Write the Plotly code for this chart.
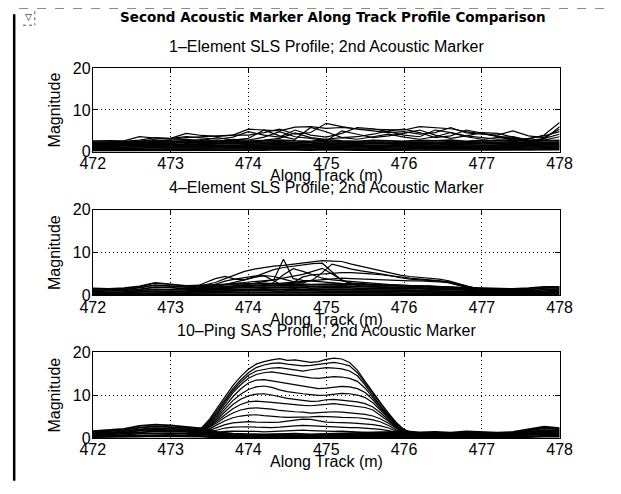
import plotly.graph_objects as go

W, H = 621, 494

# ---------------- data ----------------
x_ticks = [472, 473, 474, 475, 476, 477, 478]
y_ticks = [0, 10, 20]

x_coarse = [472.0, 472.2, 472.4, 472.6, 472.8, 473.0, 473.2, 473.4, 473.6, 473.8, 474.0,
            474.2, 474.4, 474.6, 474.8, 475.0, 475.2, 475.4, 475.6, 475.8, 476.0, 476.2,
            476.4, 476.6, 476.8, 477.0, 477.2, 477.4, 477.6, 477.8, 478.0]

# 1-Element SLS profile: higher wandering profiles
sls1_high = [
    [2.6, 2.7, 2.6, 3.6, 3.3, 3.0, 3.4, 3.6, 3.9, 4.0, 5.4, 5.2, 5.0, 5.9, 6.0, 5.6, 5.8, 5.5, 5.4, 5.3, 5.2, 6.0, 5.8, 5.5, 4.8, 4.3, 3.8, 3.2, 3.0, 4.0, 7.0],
    [2.3, 2.4, 2.5, 2.8, 3.4, 3.2, 4.4, 3.9, 3.7, 4.0, 4.0, 4.6, 5.4, 4.2, 4.6, 6.8, 6.0, 5.4, 5.0, 4.6, 4.8, 4.2, 4.6, 5.8, 4.5, 4.2, 4.0, 5.0, 3.8, 3.4, 5.4],
    [2.0, 2.2, 2.3, 2.5, 3.0, 3.2, 3.6, 3.3, 3.0, 3.5, 4.8, 4.0, 3.5, 5.2, 4.0, 3.5, 4.4, 5.8, 5.5, 4.8, 4.0, 3.6, 5.2, 4.6, 3.6, 3.0, 3.4, 3.6, 2.8, 3.0, 6.0],
    [1.8, 1.9, 2.0, 2.3, 2.6, 2.8, 3.0, 2.7, 3.4, 2.8, 3.2, 5.2, 3.8, 3.0, 5.8, 4.8, 3.4, 3.6, 4.2, 5.0, 5.4, 4.6, 3.4, 3.8, 5.2, 4.5, 3.6, 2.8, 3.2, 3.8, 4.8],
    [1.6, 1.7, 1.8, 2.0, 2.4, 2.5, 2.6, 2.9, 2.5, 3.0, 2.8, 3.5, 4.8, 3.6, 3.2, 2.6, 5.0, 4.2, 3.4, 3.8, 4.4, 5.2, 4.0, 3.2, 3.8, 4.6, 4.4, 3.5, 2.6, 3.2, 4.2],
    [1.4, 1.5, 1.6, 1.8, 2.0, 2.2, 2.3, 2.4, 2.6, 2.4, 2.6, 2.8, 3.2, 4.5, 3.4, 3.0, 3.4, 3.0, 3.6, 4.2, 3.5, 3.0, 3.6, 4.6, 3.8, 3.4, 3.0, 3.2, 2.4, 2.8, 3.6],
]
# 1-Element SLS profile: dense low band
sls1_low = [
    [2.3, 2.2, 2.3, 2.4, 2.6, 2.4, 2.6, 2.5, 2.5, 2.7, 2.4, 2.6, 2.8, 2.6, 2.5, 2.9, 2.6, 2.5, 2.7, 2.6, 2.5, 2.7, 2.6, 2.8, 2.5, 2.7, 2.6, 2.8, 2.5, 2.6, 2.7],
    [2.0, 1.9, 2.0, 2.1, 2.2, 2.0, 2.3, 2.1, 2.2, 2.3, 2.1, 2.2, 2.4, 2.2, 2.2, 2.5, 2.3, 2.1, 2.3, 2.2, 2.1, 2.3, 2.2, 2.4, 2.2, 2.3, 2.2, 2.4, 2.1, 2.2, 2.3],
    [1.7, 1.6, 1.7, 1.8, 1.9, 1.7, 1.9, 1.8, 1.9, 2.0, 1.8, 1.9, 2.0, 1.9, 1.8, 2.1, 1.9, 1.8, 2.0, 1.9, 1.8, 2.0, 1.9, 2.0, 1.9, 2.0, 1.9, 2.0, 1.8, 1.9, 2.0],
    [1.4, 1.3, 1.4, 1.5, 1.6, 1.4, 1.6, 1.5, 1.6, 1.6, 1.5, 1.6, 1.7, 1.6, 1.5, 1.7, 1.6, 1.5, 1.6, 1.6, 1.5, 1.7, 1.6, 1.7, 1.6, 1.6, 1.6, 1.7, 1.5, 1.6, 1.7],
    [1.1, 1.0, 1.1, 1.2, 1.3, 1.1, 1.3, 1.2, 1.3, 1.3, 1.2, 1.3, 1.4, 1.3, 1.2, 1.4, 1.3, 1.2, 1.3, 1.3, 1.2, 1.4, 1.3, 1.4, 1.3, 1.3, 1.3, 1.4, 1.2, 1.3, 1.4],
    [0.8, 0.8, 0.9, 0.9, 1.0, 0.9, 1.0, 0.9, 1.0, 1.0, 0.9, 1.0, 1.1, 1.0, 0.9, 1.1, 1.0, 0.9, 1.0, 1.0, 0.9, 1.1, 1.0, 1.1, 1.0, 1.0, 1.0, 1.1, 0.9, 1.0, 1.1],
    [0.6, 0.5, 0.6, 0.6, 0.7, 0.6, 0.7, 0.6, 0.7, 0.7, 0.6, 0.7, 0.8, 0.7, 0.6, 0.8, 0.7, 0.6, 0.7, 0.7, 0.6, 0.8, 0.7, 0.8, 0.7, 0.7, 0.7, 0.8, 0.6, 0.7, 0.8],
    [0.3, 0.3, 0.4, 0.4, 0.4, 0.3, 0.4, 0.4, 0.4, 0.4, 0.4, 0.4, 0.5, 0.4, 0.4, 0.5, 0.4, 0.4, 0.4, 0.4, 0.4, 0.5, 0.4, 0.5, 0.4, 0.4, 0.4, 0.5, 0.4, 0.4, 0.5],
]

# 4-Element SLS profile
x_sls4 = [473.2, 473.325, 473.45, 473.575, 473.7, 473.825, 473.95, 474.075, 474.2, 474.325,
          474.45, 474.575, 474.7, 474.825, 474.95, 475.075, 475.2, 475.325, 475.45, 475.575,
          475.7, 475.825, 475.95, 476.075, 476.2, 476.325, 476.45, 476.575, 476.7, 476.825, 476.95]
sls4_peak = [
    [1.5, 2.0, 2.4, 3.0, 3.9, 4.8, 5.6, 6.1, 6.5, 6.8, 7.0, 7.3, 7.6, 7.9, 8.1, 8.0, 7.9, 7.3, 6.8, 6.3, 5.8, 5.2, 4.7, 4.4, 4.2, 4.0, 3.8, 3.4, 2.7, 2.1, 1.6],
    [1.2, 1.5, 1.9, 2.3, 2.6, 2.8, 3.0, 3.2, 3.4, 3.6, 8.4, 3.9, 3.5, 3.3, 3.1, 3.0, 2.8, 2.7, 2.6, 2.5, 2.4, 2.3, 2.2, 2.2, 2.1, 2.0, 1.9, 1.8, 1.7, 1.5, 1.3],
    [1.0, 1.4, 1.9, 2.6, 3.3, 3.8, 4.2, 4.5, 4.6, 4.4, 3.8, 3.2, 2.9, 3.6, 5.3, 7.3, 6.7, 6.1, 5.7, 5.4, 5.0, 4.6, 4.1, 3.8, 3.6, 3.5, 3.3, 2.9, 2.4, 1.8, 1.3],
    [0.9, 1.2, 1.6, 2.0, 2.5, 3.0, 3.6, 4.3, 5.2, 6.0, 6.5, 6.8, 7.1, 7.4, 7.5, 5.4, 3.4, 2.9, 2.7, 2.6, 2.5, 2.4, 2.3, 2.3, 2.2, 2.2, 2.1, 2.0, 1.8, 1.5, 1.2],
    [1.4, 2.0, 3.0, 3.9, 4.4, 3.8, 3.6, 4.2, 4.6, 3.4, 2.2, 3.0, 4.3, 4.8, 5.0, 5.2, 5.3, 5.3, 5.2, 5.0, 4.8, 4.6, 4.3, 4.0, 3.8, 3.6, 3.4, 3.2, 2.6, 2.0, 1.5],
    [0.8, 1.0, 1.3, 1.6, 1.9, 2.2, 2.3, 2.4, 2.2, 3.0, 4.8, 6.2, 5.6, 4.8, 4.0, 3.6, 3.4, 3.2, 3.0, 2.8, 2.6, 2.5, 2.4, 2.3, 2.3, 2.2, 2.1, 2.0, 1.8, 1.5, 1.2],
    [0.8, 1.0, 1.2, 1.5, 1.8, 2.1, 2.4, 2.8, 3.2, 3.6, 4.0, 4.4, 4.9, 5.6, 6.3, 5.0, 3.6, 2.6, 2.2, 2.0, 1.9, 1.8, 1.8, 1.7, 1.7, 1.6, 1.6, 1.6, 1.5, 1.4, 1.2],
    [0.7, 0.9, 1.1, 1.4, 1.6, 1.8, 2.0, 2.2, 2.5, 2.7, 2.8, 3.0, 3.3, 3.5, 3.6, 3.8, 4.0, 3.9, 3.8, 3.7, 3.6, 3.5, 3.5, 3.4, 3.4, 3.3, 3.2, 3.0, 2.4, 1.8, 1.3],
]
sls4_low = [
    [1.6, 1.5, 1.7, 2.1, 2.9, 2.6, 2.2, 2.3, 2.5, 2.6, 2.7, 2.8, 2.6, 2.7, 2.5, 2.6, 2.7, 2.5, 2.4, 2.3, 2.2, 2.1, 2.0, 1.9, 1.8, 1.7, 1.6, 1.5, 1.7, 2.0, 2.0],
    [1.3, 1.2, 1.4, 1.8, 2.4, 2.2, 1.9, 2.0, 2.1, 2.2, 2.3, 2.3, 2.2, 2.3, 2.1, 2.2, 2.2, 2.1, 2.0, 1.9, 1.8, 1.8, 1.7, 1.6, 1.5, 1.4, 1.3, 1.3, 1.4, 1.7, 1.8],
    [1.0, 1.0, 1.1, 1.4, 1.9, 1.8, 1.5, 1.6, 1.7, 1.8, 1.9, 1.9, 1.8, 1.9, 1.7, 1.8, 1.8, 1.7, 1.6, 1.6, 1.5, 1.5, 1.4, 1.3, 1.2, 1.1, 1.1, 1.0, 1.1, 1.3, 1.5],
    [0.8, 0.7, 0.8, 1.1, 1.4, 1.3, 1.2, 1.2, 1.3, 1.4, 1.5, 1.5, 1.4, 1.5, 1.3, 1.4, 1.4, 1.3, 1.3, 1.2, 1.2, 1.1, 1.1, 1.0, 0.9, 0.9, 0.8, 0.8, 0.9, 1.0, 1.2],
    [0.5, 0.5, 0.6, 0.8, 1.0, 0.9, 0.8, 0.9, 1.0, 1.0, 1.1, 1.1, 1.0, 1.1, 1.0, 1.0, 1.0, 1.0, 0.9, 0.9, 0.9, 0.8, 0.8, 0.7, 0.7, 0.6, 0.6, 0.6, 0.6, 0.7, 0.9],
    [0.3, 0.3, 0.4, 0.5, 0.6, 0.6, 0.5, 0.6, 0.6, 0.7, 0.7, 0.7, 0.6, 0.7, 0.6, 0.7, 0.6, 0.6, 0.6, 0.6, 0.5, 0.5, 0.5, 0.5, 0.4, 0.4, 0.4, 0.4, 0.4, 0.5, 0.6],
    [0.1, 0.1, 0.2, 0.2, 0.3, 0.3, 0.2, 0.3, 0.3, 0.3, 0.3, 0.3, 0.3, 0.3, 0.3, 0.3, 0.3, 0.3, 0.3, 0.3, 0.2, 0.2, 0.2, 0.2, 0.2, 0.2, 0.2, 0.2, 0.2, 0.2, 0.3],
]

# 10-Ping SAS profile
x_sas = [473.2, 473.3, 473.4, 473.5, 473.6, 473.7, 473.8, 473.9, 474.0, 474.1, 474.2,
         474.3, 474.4, 474.5, 474.6, 474.7, 474.8, 474.9, 475.0, 475.1, 475.2, 475.3,
         475.4, 475.5, 475.6, 475.7, 475.8, 475.9, 476.0, 476.1, 476.2]
sas_plateau = [
    [1.0, 1.4, 2.4, 4.4, 7.0, 9.6, 12.2, 14.3, 16.0, 17.2, 17.8, 18.2, 18.5, 18.1, 18.2, 17.9, 17.6, 17.8, 18.3, 18.6, 18.4, 17.6, 15.8, 13.2, 10.6, 8.2, 5.8, 3.6, 2.0, 1.2, 0.9],
    [0.9, 1.3, 2.2, 4.0, 6.5, 9.0, 11.5, 13.5, 15.2, 16.4, 17.0, 17.4, 17.5, 17.2, 17.0, 16.8, 16.9, 17.1, 17.4, 17.6, 17.3, 16.8, 15.2, 12.8, 10.2, 7.8, 5.5, 3.4, 1.8, 1.1, 0.8],
    [0.9, 1.2, 2.0, 3.7, 6.0, 8.5, 11.0, 13.0, 14.6, 15.6, 16.0, 16.3, 16.4, 16.1, 15.8, 15.6, 15.9, 16.2, 16.4, 16.3, 16.1, 15.6, 14.5, 12.3, 9.8, 7.4, 5.2, 3.2, 1.7, 1.0, 0.8],
    [0.8, 1.1, 1.9, 3.5, 5.6, 8.0, 10.5, 12.4, 13.9, 14.8, 15.2, 15.4, 15.1, 14.8, 14.6, 14.3, 14.0, 13.9, 14.1, 14.3, 14.2, 13.9, 13.2, 11.6, 9.4, 7.1, 5.0, 3.1, 1.6, 1.0, 0.7],
    [0.8, 1.0, 1.8, 3.2, 5.2, 7.4, 9.6, 11.4, 12.8, 13.5, 13.6, 13.3, 13.0, 12.6, 12.4, 12.0, 11.7, 11.5, 11.6, 11.8, 12.0, 11.9, 11.5, 10.6, 8.9, 6.8, 4.8, 3.0, 1.5, 0.9, 0.7],
    [0.7, 1.0, 1.7, 3.0, 4.8, 6.8, 8.7, 10.2, 11.3, 11.9, 12.1, 11.8, 11.2, 10.8, 10.5, 10.3, 10.1, 9.9, 10.0, 10.2, 10.4, 10.3, 10.0, 9.4, 8.2, 6.4, 4.5, 2.8, 1.4, 0.9, 0.7],
    [0.7, 0.9, 1.6, 2.8, 4.4, 6.2, 7.8, 9.0, 9.8, 10.2, 10.3, 10.0, 9.6, 9.2, 9.0, 8.7, 8.5, 8.6, 8.9, 9.0, 8.8, 8.6, 8.4, 8.0, 7.2, 5.8, 4.2, 2.6, 1.3, 0.8, 0.6],
    [0.7, 0.9, 1.5, 2.6, 4.0, 5.5, 6.8, 7.8, 8.4, 8.6, 8.5, 8.3, 8.1, 7.9, 7.7, 7.6, 7.5, 7.6, 7.8, 8.0, 7.8, 7.6, 7.4, 7.1, 6.5, 5.3, 3.9, 2.4, 1.2, 0.8, 0.6],
    [0.6, 0.8, 1.4, 2.4, 3.6, 4.8, 5.8, 6.5, 6.9, 7.0, 6.9, 6.7, 6.4, 6.2, 6.1, 6.0, 5.8, 5.9, 6.0, 6.1, 6.0, 5.8, 5.7, 5.5, 5.1, 4.4, 3.4, 2.2, 1.1, 0.7, 0.6],
    [0.6, 0.8, 1.3, 2.1, 3.1, 4.0, 4.7, 5.1, 5.3, 5.4, 5.2, 5.0, 4.9, 4.8, 4.8, 4.9, 4.9, 5.0, 5.0, 4.9, 4.8, 4.8, 4.7, 4.5, 4.2, 3.7, 2.9, 1.9, 1.0, 0.7, 0.5],
    [0.5, 0.7, 1.1, 1.8, 2.5, 3.1, 3.5, 3.7, 3.8, 3.7, 3.6, 3.6, 3.7, 3.9, 4.2, 4.4, 4.3, 4.0, 3.7, 3.6, 3.6, 3.5, 3.4, 3.3, 3.1, 2.8, 2.3, 1.6, 0.9, 0.6, 0.5],
    [0.5, 0.6, 0.9, 1.4, 1.9, 2.3, 2.5, 2.6, 2.6, 2.5, 2.4, 2.4, 2.5, 2.7, 2.8, 2.9, 2.8, 2.7, 2.6, 2.5, 2.5, 2.4, 2.4, 2.3, 2.2, 2.0, 1.7, 1.2, 0.8, 0.6, 0.5],
    [0.4, 0.5, 0.7, 1.0, 1.3, 1.5, 1.6, 1.6, 1.5, 1.5, 1.4, 1.5, 1.6, 1.7, 1.8, 1.8, 1.7, 1.6, 1.5, 1.5, 1.6, 1.5, 1.5, 1.4, 1.3, 1.2, 1.0, 0.8, 0.6, 0.5, 0.4],
]
sas_low = [
    [1.6, 1.8, 2.1, 2.8, 3.1, 2.9, 2.6, 2.2, 1.4, 1.0, 0.9, 0.8, 0.9, 1.0, 0.8, 0.9, 1.0, 1.1, 1.3, 1.4, 1.6, 1.3, 1.4, 1.2, 1.5, 1.3, 1.2, 1.4, 2.0, 2.6, 2.3],
    [1.3, 1.5, 1.8, 2.4, 2.7, 2.5, 2.3, 1.9, 1.1, 0.7, 0.6, 0.7, 0.8, 0.6, 0.7, 0.8, 0.7, 0.9, 1.1, 1.2, 1.3, 1.1, 1.2, 1.0, 1.2, 1.1, 1.0, 1.2, 1.7, 2.2, 2.0],
    [1.1, 1.2, 1.5, 2.0, 2.3, 2.2, 2.0, 1.6, 0.9, 0.6, 0.5, 0.5, 0.6, 0.5, 0.6, 0.6, 0.5, 0.7, 0.9, 1.0, 1.1, 0.9, 1.0, 0.9, 1.0, 0.9, 0.9, 1.0, 1.4, 1.8, 1.7],
    [0.9, 1.0, 1.2, 1.7, 1.9, 1.8, 1.7, 1.3, 0.7, 0.5, 0.4, 0.4, 0.5, 0.4, 0.4, 0.5, 0.4, 0.5, 0.7, 0.8, 0.9, 0.8, 0.8, 0.7, 0.8, 0.8, 0.7, 0.8, 1.2, 1.5, 1.4],
    [0.7, 0.8, 1.0, 1.3, 1.5, 1.5, 1.4, 1.1, 0.5, 0.3, 0.3, 0.3, 0.3, 0.3, 0.3, 0.3, 0.3, 0.4, 0.5, 0.6, 0.7, 0.6, 0.6, 0.6, 0.6, 0.6, 0.6, 0.6, 0.9, 1.2, 1.1],
    [0.5, 0.6, 0.7, 1.0, 1.1, 1.1, 1.0, 0.8, 0.4, 0.2, 0.2, 0.2, 0.2, 0.2, 0.2, 0.2, 0.2, 0.3, 0.4, 0.4, 0.5, 0.4, 0.4, 0.4, 0.4, 0.4, 0.4, 0.4, 0.7, 0.9, 0.8],
    [0.3, 0.4, 0.5, 0.6, 0.7, 0.7, 0.6, 0.5, 0.3, 0.1, 0.1, 0.1, 0.1, 0.1, 0.1, 0.1, 0.1, 0.2, 0.2, 0.3, 0.3, 0.3, 0.3, 0.2, 0.3, 0.3, 0.2, 0.3, 0.4, 0.5, 0.5],
    [0.2, 0.2, 0.3, 0.3, 0.4, 0.4, 0.3, 0.3, 0.1, 0.05, 0.05, 0.05, 0.05, 0.05, 0.05, 0.05, 0.05, 0.1, 0.1, 0.1, 0.1, 0.1, 0.1, 0.1, 0.1, 0.1, 0.1, 0.1, 0.2, 0.3, 0.3],
]

main_title = "Second Acoustic Marker Along Track Profile Comparison"
sub_titles = ["1\u2013Element SLS Profile; 2nd Acoustic Marker",
              "4\u2013Element SLS Profile; 2nd Acoustic Marker",
              "10\u2013Ping SAS Profile; 2nd Acoustic Marker"]
x_label = "Along Track (m)"
y_label = "Magnitude"

# ---------------- layout helpers ----------------
# The captured page includes the default 8px body margin and is scaled to fit;
# these helpers map target screenshot pixels to paper coordinates.
SX, SY, OFF = 621 / 637, 494 / 510, 8.0

def px_x(s):
    return (s / SX - OFF) / W

def px_y(s):
    return 1 - (s / SY - OFF) / H

LEFT, RIGHT = 89, 564
boxes = [(68, 152), (210, 296), (353, 439)]  # top, bottom (target px)

FONT = "Liberation Sans, Arial, sans-serif"

fig = go.Figure()

def add_lines(xs, series, idx, width):
    suffix = "" if idx == 1 else str(idx)
    for ys in series:
        fig.add_trace(go.Scatter(x=xs, y=ys, mode="lines",
                                 line=dict(color="black", width=width),
                                 xaxis="x" + suffix, yaxis="y" + suffix,
                                 hoverinfo="skip", showlegend=False))

add_lines(x_coarse, sls1_low, 1, 1.8)
add_lines(x_coarse, sls1_high, 1, 1.2)
add_lines(x_coarse, sls4_low, 2, 1.8)
add_lines(x_sls4, sls4_peak, 2, 1.2)
add_lines(x_coarse, sas_low, 3, 1.8)
add_lines(x_sas, sas_plateau, 3, 1.2)

layout = dict(width=W, height=H, margin=dict(l=0, r=0, t=0, b=0),
              paper_bgcolor="white", plot_bgcolor="white", showlegend=False)

common = dict(showgrid=True, gridcolor="black", griddash="1px,3px", gridwidth=1,
              showline=True, linecolor="black", linewidth=1, mirror="ticks",
              ticks="inside", ticklen=5, tickcolor="black", tickwidth=1,
              zeroline=False, fixedrange=True,
              tickfont=dict(family=FONT, size=16, color="black"))

annotations = []
for i, (top, bot) in enumerate(boxes, start=1):
    suffix = "" if i == 1 else str(i)
    layout["xaxis" + suffix] = dict(common, domain=[px_x(LEFT), px_x(RIGHT)],
                                    range=[472, 478], tickvals=x_ticks,
                                    ticklabelstandoff=-3,
                                    anchor="y" + suffix)
    layout["yaxis" + suffix] = dict(common, domain=[px_y(bot), px_y(top)],
                                    range=[0, 20], tickvals=y_ticks,
                                    ticklabelstandoff=-2,
                                    anchor="x" + suffix)
    cx = px_x((LEFT + RIGHT) / 2)
    annotations.append(dict(text=sub_titles[i - 1], x=cx, y=px_y(top - 22),
                            xref="paper", yref="paper", showarrow=False,
                            xanchor="center", yanchor="middle",
                            font=dict(family=FONT, size=16, color="black")))
    annotations.append(dict(text=x_label, x=cx, y=px_y(bot + 24),
                            xref="paper", yref="paper", showarrow=False,
                            xanchor="center", yanchor="middle",
                            font=dict(family=FONT, size=16, color="black")))
    annotations.append(dict(text=y_label, x=px_x(50), y=px_y((top + bot) / 2),
                            xref="paper", yref="paper", showarrow=False,
                            textangle=-90, xanchor="center", yanchor="middle",
                            font=dict(family=FONT, size=16, color="black")))

annotations.append(dict(text="<b>" + main_title + "</b>", x=px_x(333), y=px_y(17),
                        xref="paper", yref="paper", showarrow=False,
                        xanchor="center", yanchor="middle",
                        font=dict(family="DejaVu Sans, sans-serif", size=13.5, color="black")))
annotations.append(dict(text="\u25bd", x=px_x(24), y=px_y(17),
                        xref="paper", yref="paper", showarrow=False,
                        xanchor="center", yanchor="middle",
                        font=dict(family="DejaVu Sans", size=9, color="black")))

shapes = [
    # scanned window frame
    dict(type="line", xref="paper", yref="paper", x0=0.002, x1=0.002,
         y0=px_y(14), y1=px_y(482), line=dict(color="black", width=2.5)),
    dict(type="line", xref="paper", yref="paper", x0=px_x(14), x1=1,
         y0=0.999, y1=0.999, line=dict(color="#888888", width=1, dash="dash")),
    dict(type="line", xref="paper", yref="paper", x0=px_x(18), x1=px_x(30),
         y0=px_y(25), y1=px_y(25), line=dict(color="#555555", width=1, dash="dot")),
    dict(type="line", xref="paper", yref="paper", x0=px_x(30), x1=px_x(30),
         y0=px_y(11), y1=px_y(25), line=dict(color="#555555", width=1, dash="dot")),
]

layout["annotations"] = annotations
layout["shapes"] = shapes
fig.update_layout(**layout)

fig.write_html("out.html")
